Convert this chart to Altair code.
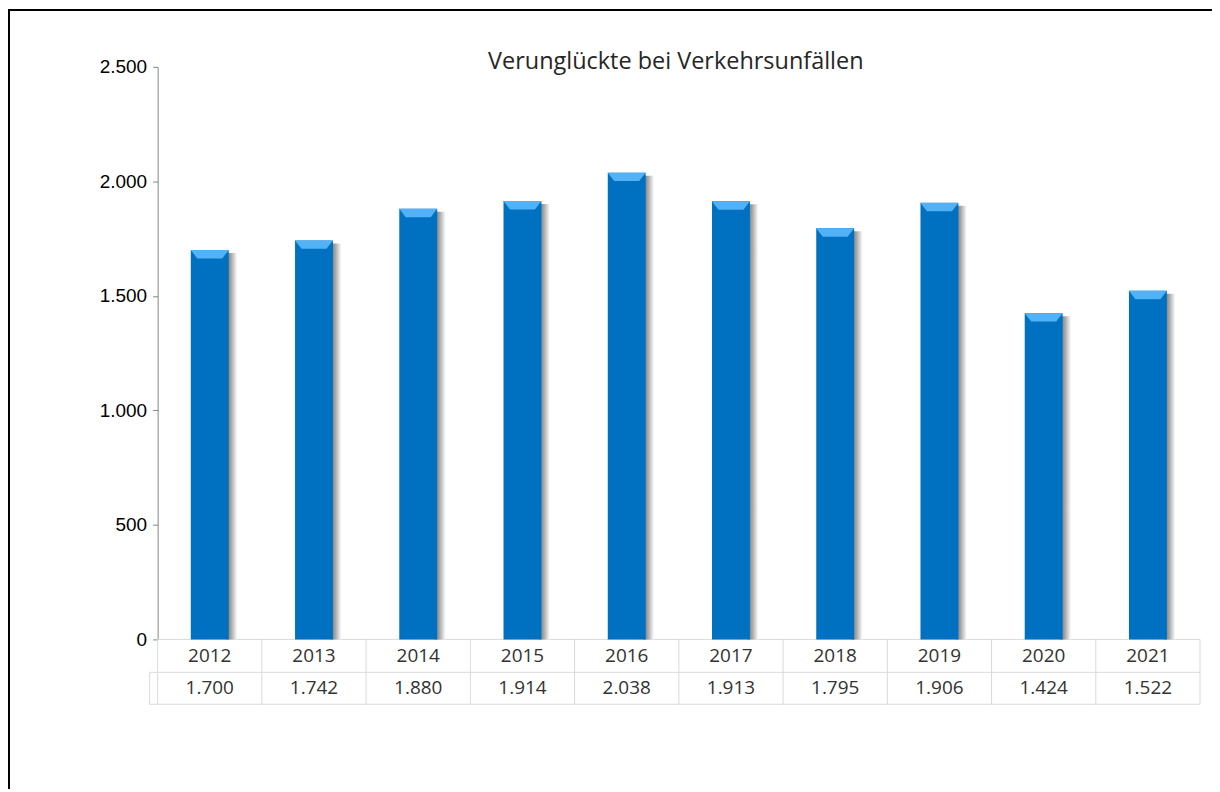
import altair as alt
import pandas as pd

# ---- data ----
years = ["2012", "2013", "2014", "2015", "2016", "2017", "2018", "2019", "2020", "2021"]
values = [1700, 1742, 1880, 1914, 2038, 1913, 1795, 1906, 1424, 1522]
y_ticks = [0, 500, 1000, 1500, 2000, 2500]
title_text = "Verunglückte bei Verkehrsunfällen"

W, H = 1045, 574
PAD = {"left": 150, "top": 58, "right": 12, "bottom": 150}

df = pd.DataFrame({"Jahr": years, "Wert": values})
one = pd.DataFrame({"k": [0]})
title_df = pd.DataFrame({"t": [title_text]})

de_fmt = "replace(format({v}, ','), ',', '.')"

xscale = alt.Scale(paddingInner=0, paddingOuter=0)
x = alt.X("Jahr:N", scale=xscale, axis=None, sort=years)
y = alt.Y(
    "Wert:Q",
    scale=alt.Scale(domain=[0, 2500], nice=False),
    axis=alt.Axis(
        values=y_ticks,
        labelExpr=de_fmt.format(v="datum.value"),
        grid=False,
        domainColor="#868686",
        tickColor="#868686",
        tickSize=5,
        labelFont="Liberation Sans",
        labelFontSize=19,
        labelColor="#000000",
        labelPadding=6,
        title=None,
    ),
)

base = alt.Chart(df)

shadow = base.mark_bar(
    size=11,
    xOffset=22,
    yOffset=3,
    clip=True,
    color=alt.Gradient(
        gradient="linear",
        stops=[
            alt.GradientStop(color="#6e6e6e", offset=0),
            alt.GradientStop(color="#a8a8a8", offset=0.45),
            alt.GradientStop(color="#ffffff", offset=1),
        ],
        x1=0, x2=1, y1=0, y2=0,
    ),
).encode(x=x, y=y)

bars = base.mark_bar(size=38, color="#0070C0").encode(x=x, y=y)

bevel = base.mark_point(
    shape="M -1 -0.22 L 1 -0.22 L 0.66 0.22 L -0.66 0.22 Z",
    size=1444,
    filled=True,
    color="#52B2F5",
    opacity=1,
    strokeWidth=0,
    yOffset=4.2,
).encode(x=x, y=y)

grid_col = "#D9D9D9"
h_top = alt.Chart(one).mark_rule(color=grid_col).encode(
    x=alt.value(0), x2=alt.value(W), y=alt.value(H))
h_mid = alt.Chart(one).mark_rule(color=grid_col).encode(
    x=alt.value(-8), x2=alt.value(W), y=alt.value(H + 33))
h_bot = alt.Chart(one).mark_rule(color=grid_col).encode(
    x=alt.value(-8), x2=alt.value(W), y=alt.value(H + 65))
v_stub = alt.Chart(one).mark_rule(color=grid_col).encode(
    x=alt.value(-8), y=alt.value(H + 33), y2=alt.value(H + 65))
v_right = alt.Chart(one).mark_rule(color=grid_col).encode(
    x=alt.value(W), y=alt.value(H), y2=alt.value(H + 65))
v_lines = base.mark_rule(color=grid_col).encode(
    x=alt.X("Jahr:N", scale=xscale, axis=None, sort=years, bandPosition=0),
    y=alt.value(H),
    y2=alt.value(H + 65),
)

year_text = base.mark_text(font="Open Sans", fontSize=19, color="#333333").encode(
    x=x, y=alt.value(H + 17), text="Jahr:N")
value_text = base.transform_calculate(
    label=de_fmt.format(v="datum.Wert")
).mark_text(font="Open Sans", fontSize=19, color="#333333").encode(
    x=x, y=alt.value(H + 49), text="label:N")

title = alt.Chart(title_df).mark_text(
    font="Open Sans", fontSize=23.5, color="#262626",
    align="center", baseline="alphabetic",
).encode(x=alt.value(W / 2 - 3), y=alt.value(2), text="t:N")

border_left = alt.Chart(one).mark_rule(color="#000000", strokeWidth=2).encode(
    x=alt.value(-149), y=alt.value(-58), y2=alt.value(H + PAD["bottom"]))
border_top = alt.Chart(one).mark_rule(color="#000000", strokeWidth=2).encode(
    x=alt.value(-150), x2=alt.value(W + PAD["right"]), y=alt.value(-57))

chart = alt.layer(
    h_top, h_mid, h_bot, v_stub, v_right, v_lines,
    shadow, bars, bevel,
    year_text, value_text, title,
    border_left, border_top,
).properties(
    width=W,
    height=H,
    autosize=alt.AutoSizeParams(type="none"),
    padding=PAD,
).configure_view(stroke=None)

chart.save("out.html", embed_options={"renderer": "svg", "actions": False})
